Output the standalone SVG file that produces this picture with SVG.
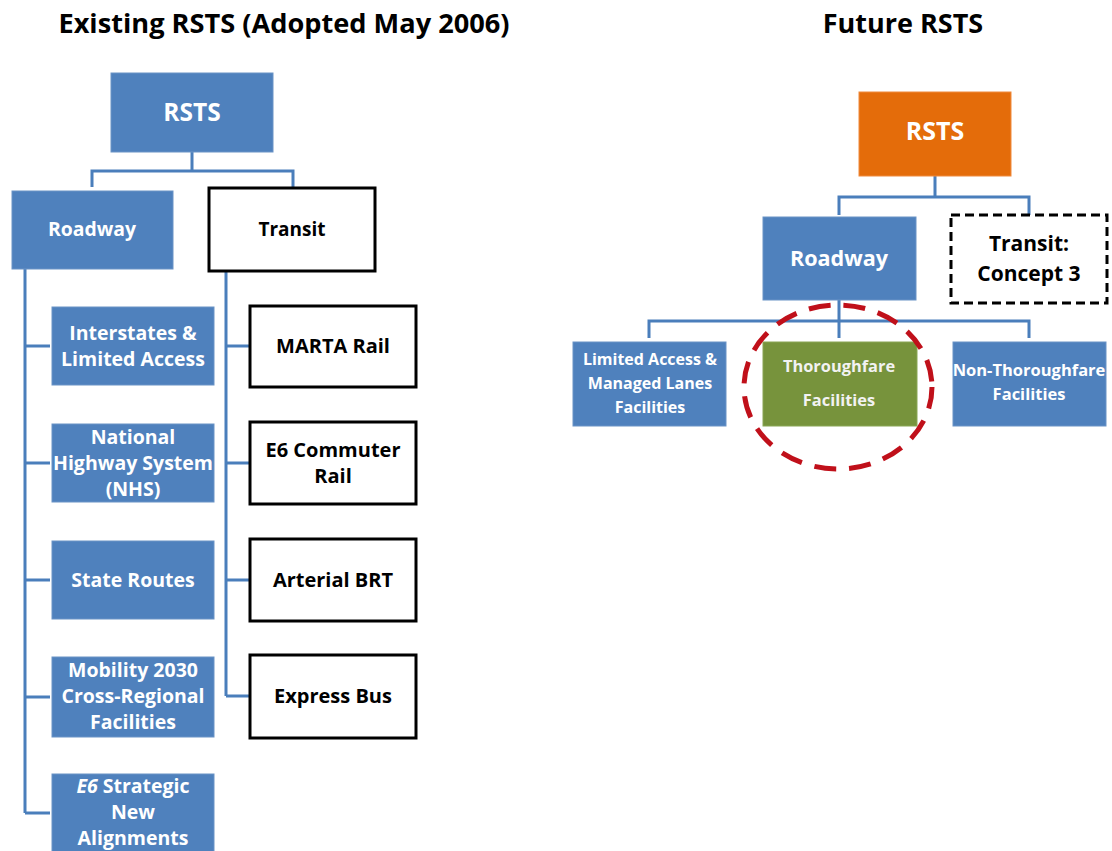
<svg xmlns="http://www.w3.org/2000/svg" width="1112" height="851" viewBox="0 0 1112 851">
<style>
.t{font-family:"Open Sans","Liberation Sans",sans-serif;font-weight:bold;text-anchor:middle}
.w{fill:#ffffff}
.k{fill:#000000}
.blue{fill:#4F81BD;stroke:#6A93C6;stroke-width:1}
.wb{fill:#ffffff;stroke:#000000;stroke-width:3}
.c{fill:none;stroke:#4A7EBB;stroke-width:3}
</style>
<rect width="1112" height="851" fill="#ffffff"/>
<text class="t k" x="284" y="33" font-size="27.2">Existing RSTS (Adopted May 2006)</text>
<text class="t k" x="903" y="33" font-size="27">Future RSTS</text>

<g id="connectors">
<path class="c" d="M192 152V171M92 187V171H293V187"/>
<path class="c" d="M25 269V813M25 346H50M25 463H50M25 580H50M25 697H50M25 813H50"/>
<path class="c" d="M226 271V696M226 346H250M226 463H250M226 580H250M226 696H250"/>
<path class="c" d="M935 176V197M839 215V197H1029V215"/>
<path class="c" d="M839 300V338M649 338V321H1029V338"/>
</g>

<g id="l-rsts"><rect class="blue" x="111" y="73" width="162" height="79"/><text class="t w" x="192" y="121" font-size="24.5">RSTS</text></g>
<g id="l-roadway"><rect class="blue" x="12" y="191" width="161" height="78"/><text class="t w" x="92" y="236" font-size="19.4">Roadway</text></g>
<g id="l-transit"><rect class="wb" x="209" y="188" width="166" height="83"/><text class="t k" x="292" y="236" font-size="19">Transit</text></g>

<g id="l-interstates"><rect class="blue" x="52" y="307" width="162" height="78"/><text class="t w" font-size="19.5"><tspan x="133" y="340">Interstates &amp;</tspan><tspan x="133" y="366">Limited Access</tspan></text></g>
<g id="l-nhs"><rect class="blue" x="52" y="424" width="162" height="78"/><text class="t w" font-size="19.5"><tspan x="133" y="444">National</tspan><tspan x="133" y="470">Highway System</tspan><tspan x="133" y="496">(NHS)</tspan></text></g>
<g id="l-state"><rect class="blue" x="52" y="541" width="162" height="78"/><text class="t w" x="133" y="587" font-size="19.5">State Routes</text></g>
<g id="l-mobility"><rect class="blue" x="52" y="657" width="162" height="80"/><text class="t w" font-size="19.5"><tspan x="133" y="677">Mobility 2030</tspan><tspan x="133" y="703">Cross-Regional</tspan><tspan x="133" y="729">Facilities</tspan></text></g>
<g id="l-e6strategic"><rect class="blue" x="52" y="774" width="162" height="90"/><text class="t w" font-size="19.5"><tspan x="133" y="793"><tspan font-style="italic">E6</tspan> Strategic</tspan><tspan x="133" y="819">New</tspan><tspan x="133" y="845">Alignments</tspan></text></g>

<g id="l-marta"><rect class="wb" x="250" y="306" width="166" height="81"/><text class="t k" x="333" y="353" font-size="20">MARTA Rail</text></g>
<g id="l-commuter"><rect class="wb" x="250" y="422" width="166" height="82"/><text class="t k" font-size="20"><tspan x="333" y="457">E6 Commuter</tspan><tspan x="333" y="483">Rail</tspan></text></g>
<g id="l-brt"><rect class="wb" x="250" y="539" width="166" height="82"/><text class="t k" x="333" y="587" font-size="20">Arterial BRT</text></g>
<g id="l-express"><rect class="wb" x="250" y="655" width="166" height="83"/><text class="t k" x="333" y="703" font-size="20">Express Bus</text></g>

<g id="r-rsts"><rect x="859" y="92" width="152" height="84" fill="#E46C0A" stroke="#F08A3C" stroke-width="1"/><text class="t w" x="935" y="140" font-size="25">RSTS</text></g>
<g id="r-roadway"><rect class="blue" x="763" y="217" width="153" height="83"/><text class="t w" x="839" y="266" font-size="21.6">Roadway</text></g>
<g id="r-transit"><rect x="951" y="215" width="156" height="88" fill="#ffffff" stroke="#000000" stroke-width="3" stroke-dasharray="9 5"/><text class="t k" font-size="21"><tspan x="1029" y="251">Transit:</tspan><tspan x="1029" y="281">Concept 3</tspan></text></g>
<g id="r-limited"><rect class="blue" x="573" y="342" width="153" height="84"/><text class="t w" font-size="16"><tspan x="650" y="365">Limited Access &amp;</tspan><tspan x="650" y="389">Managed Lanes</tspan><tspan x="650" y="413">Facilities</tspan></text></g>
<g id="r-thoroughfare"><rect x="763" y="342" width="154" height="84" fill="#77933C" stroke="#8AA655" stroke-width="1"/><text class="t" fill="#F2F2F2" font-size="16.4"><tspan x="839" y="372">Thoroughfare</tspan><tspan x="839" y="406">Facilities</tspan></text></g>
<g id="r-nonthoroughfare"><rect class="blue" x="953" y="342" width="153" height="84"/><text class="t w" font-size="16.5"><tspan x="1029" y="376">Non-Thoroughfare</tspan><tspan x="1029" y="400">Facilities</tspan></text></g>

<g id="highlight"><ellipse cx="838" cy="387" rx="94" ry="82" fill="none" stroke="#C0101A" stroke-width="5" stroke-dasharray="22 13"/></g>
</svg>
